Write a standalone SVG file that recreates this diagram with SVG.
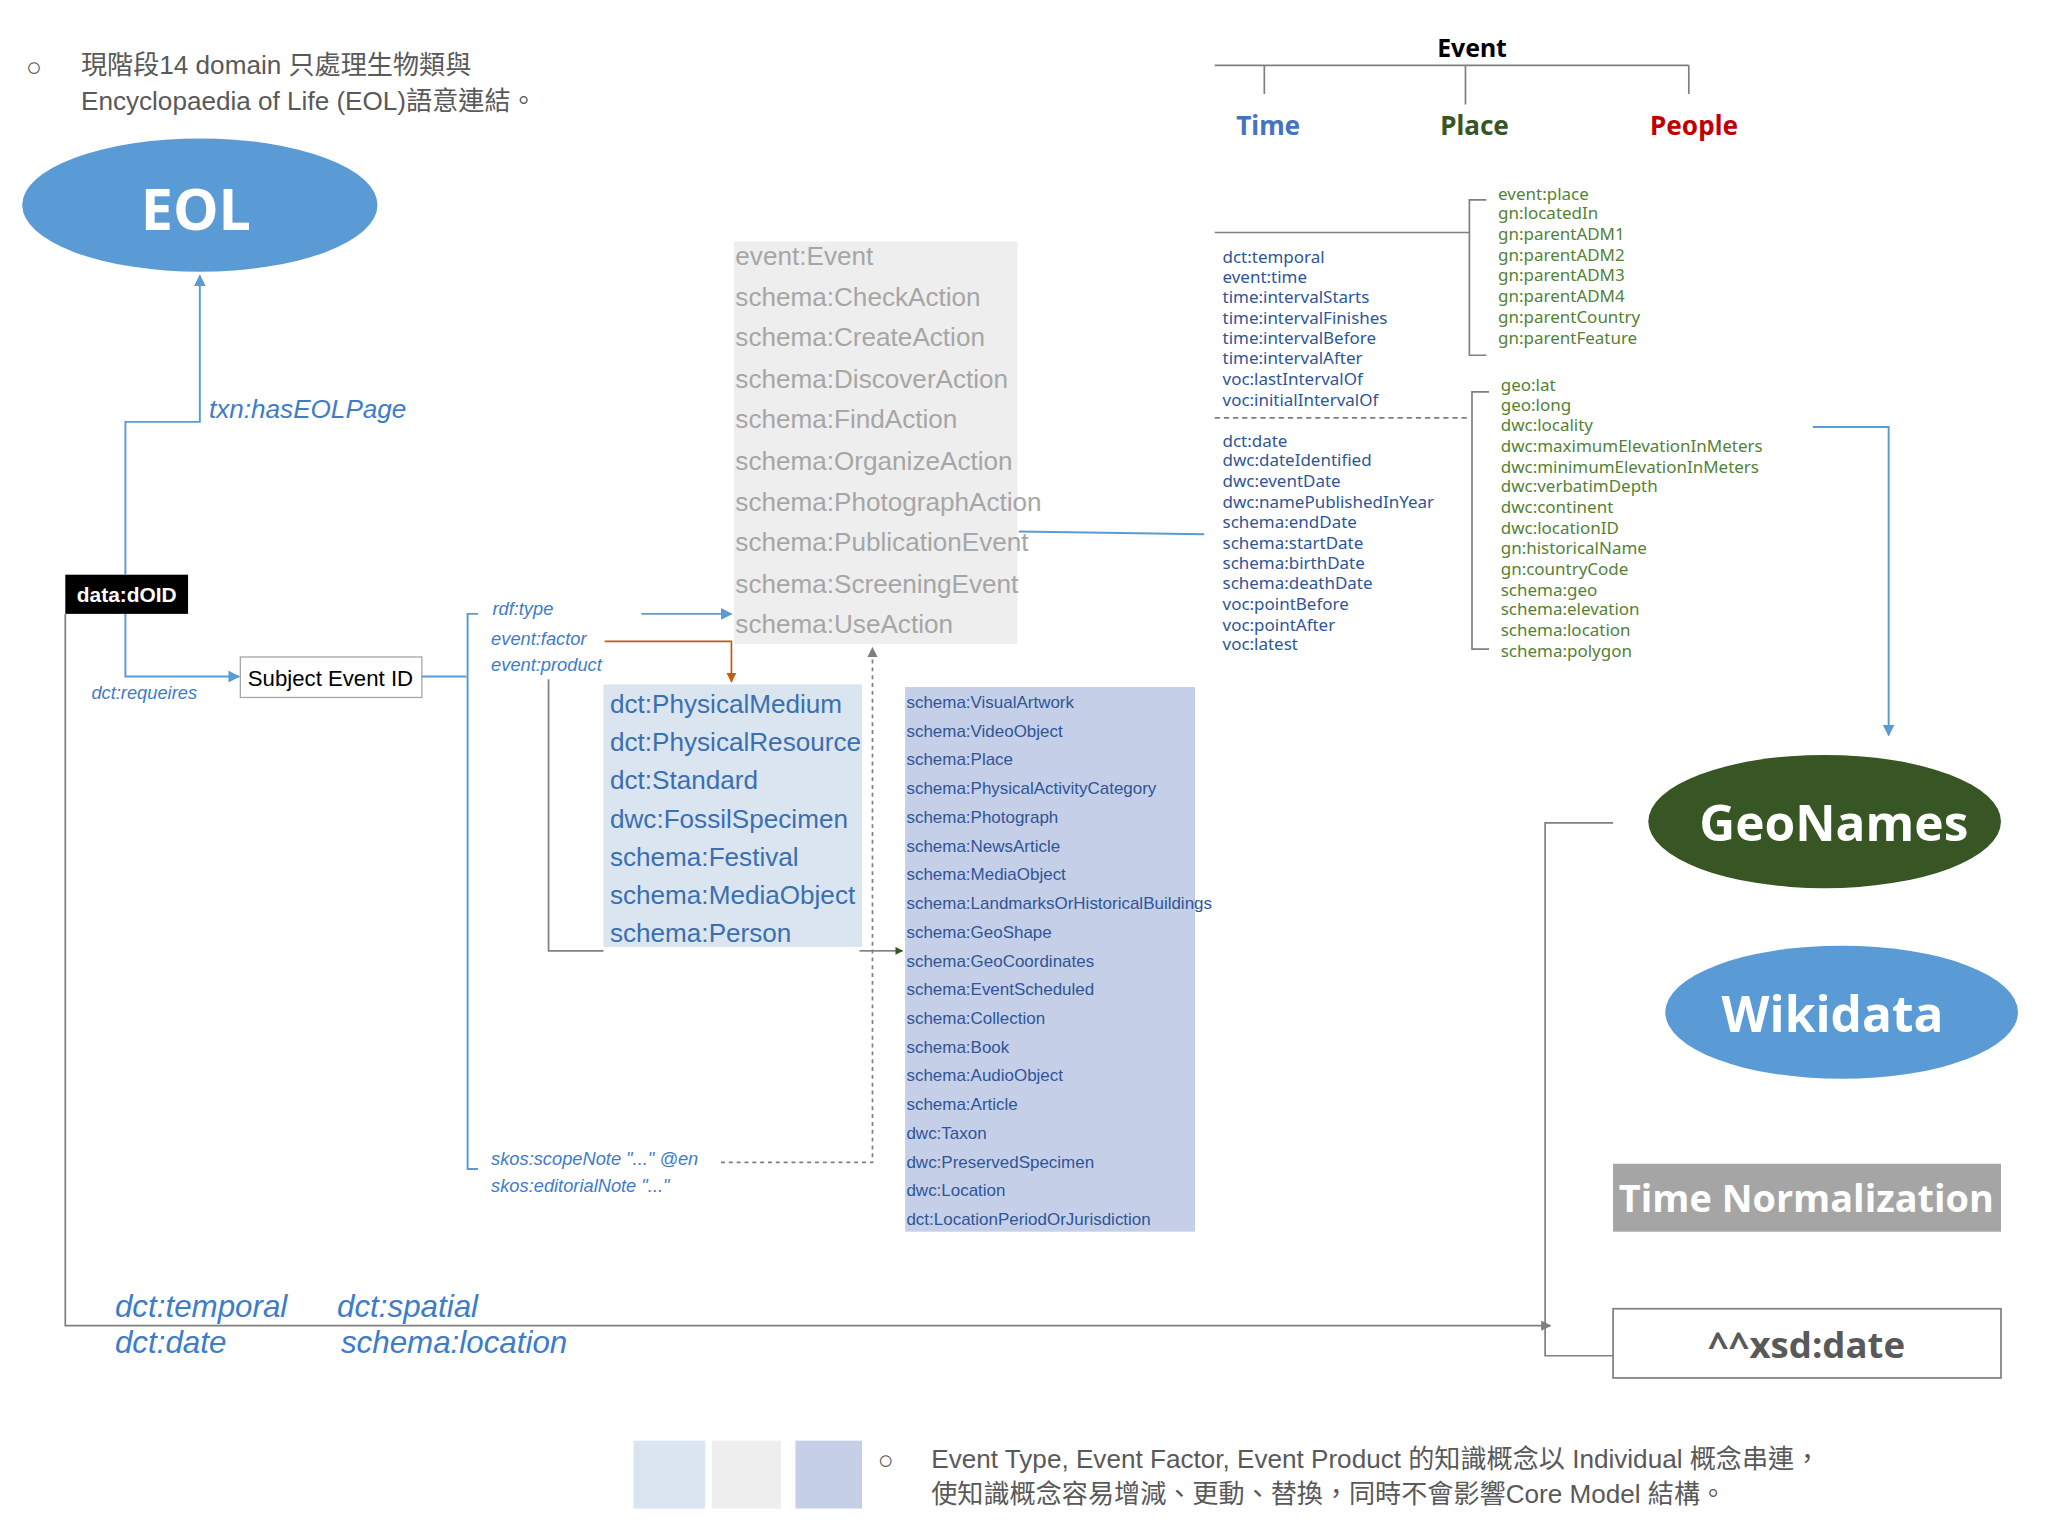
<svg xmlns="http://www.w3.org/2000/svg" width="2048" height="1536" viewBox="0 0 2048 1536">
<style>
.g{font-family:"Liberation Sans",Arial,"Noto Sans CJK TC",sans-serif;fill:#595959;font-size:20px}
.lst{font-family:"Noto Sans","DejaVu Sans",sans-serif;font-size:13px}
.bl{fill:#2f5597}.gr{fill:#548235}
.nar{font-family:"Liberation Sans Narrow","Liberation Sans",sans-serif}
.it{font-family:"Liberation Sans Narrow","Liberation Sans",sans-serif;font-style:italic;fill:#3d7cc9}
.ln{fill:none;stroke:#7f7f7f;stroke-width:1.3}
.bln{fill:none;stroke:#5b9bd5;stroke-width:1.5}
.big{font-family:"Open Sans","Liberation Sans",sans-serif;font-weight:bold;fill:#fff;text-anchor:middle}
</style>
<defs>
<marker id="ab" viewBox="0 0 10 10" refX="9" refY="5" markerWidth="6" markerHeight="6" orient="auto"><path d="M0,0L10,5L0,10z" fill="#5b9bd5"/></marker>
<marker id="ao" viewBox="0 0 10 10" refX="9" refY="5" markerWidth="6" markerHeight="6" orient="auto"><path d="M0,0L10,5L0,10z" fill="#c55a11"/></marker>
<marker id="ag" viewBox="0 0 10 10" refX="9" refY="5" markerWidth="6" markerHeight="6" orient="auto"><path d="M0,0L10,5L0,10z" fill="#7f7f7f"/></marker>
<marker id="adg" viewBox="0 0 10 10" refX="9" refY="5" markerWidth="6" markerHeight="6" orient="auto"><path d="M0,0L10,5L0,10z" fill="#375623"/></marker>
</defs>
<rect width="2048" height="1536" fill="#fff"/>
<g transform="scale(1.30612)">
<g id="intro">
<text class="g" x="20" y="58">○</text>
<text class="g" x="62" y="57">現階段14 domain 只處理生物類與</text>
<text class="g" x="62" y="84">Encyclopaedia of Life (EOL)語意連結。</text>
</g>
<g id="eol"><ellipse cx="153" cy="157" rx="136" ry="51" fill="#5b9bd5"/><text class="big" x="150" y="176" font-size="44">EOL</text></g>
<g id="event">
<text x="1127" y="44" font-family="Noto Sans,sans-serif" font-weight="bold" font-size="19" text-anchor="middle" fill="#000">Event</text>
<path class="ln" d="M930,50H1293M968,50V72M1122,50V80M1293,50V72"/>
<text x="971" y="103" font-family="Noto Sans,sans-serif" font-weight="bold" font-size="20" text-anchor="middle" fill="#4472c4">Time</text>
<text x="1129" y="103" font-family="Noto Sans,sans-serif" font-weight="bold" font-size="20" text-anchor="middle" fill="#375623">Place</text>
<text x="1297" y="103" font-family="Noto Sans,sans-serif" font-weight="bold" font-size="20" text-anchor="middle" fill="#c00000">People</text>
</g>
<g id="timelist" class="lst bl">
<text x="936" y="201">dct:temporal</text><text x="936" y="217">event:time</text><text x="936" y="232">time:intervalStarts</text><text x="936" y="248">time:intervalFinishes</text><text x="936" y="263">time:intervalBefore</text><text x="936" y="279">time:intervalAfter</text><text x="936" y="295">voc:lastIntervalOf</text><text x="936" y="311">voc:initialIntervalOf</text>
<text x="936" y="342">dct:date</text><text x="936" y="357">dwc:dateIdentified</text><text x="936" y="373">dwc:eventDate</text><text x="936" y="389">dwc:namePublishedInYear</text><text x="936" y="404">schema:endDate</text><text x="936" y="420">schema:startDate</text><text x="936" y="436">schema:birthDate</text><text x="936" y="451">schema:deathDate</text><text x="936" y="467">voc:pointBefore</text><text x="936" y="483">voc:pointAfter</text><text x="936" y="498">voc:latest</text>
</g>
<g id="placelist" class="lst gr">
<text x="1147" y="153">event:place</text><text x="1147" y="168">gn:locatedIn</text><text x="1147" y="184">gn:parentADM1</text><text x="1147" y="200">gn:parentADM2</text><text x="1147" y="215">gn:parentADM3</text><text x="1147" y="231">gn:parentADM4</text><text x="1147" y="247">gn:parentCountry</text><text x="1147" y="263">gn:parentFeature</text>
<text x="1149" y="299">geo:lat</text><text x="1149" y="315">geo:long</text><text x="1149" y="330">dwc:locality</text><text x="1149" y="346">dwc:maximumElevationInMeters</text><text x="1149" y="362">dwc:minimumElevationInMeters</text><text x="1149" y="377">dwc:verbatimDepth</text><text x="1149" y="393">dwc:continent</text><text x="1149" y="409">dwc:locationID</text><text x="1149" y="424">gn:historicalName</text><text x="1149" y="440">gn:countryCode</text><text x="1149" y="456">schema:geo</text><text x="1149" y="471">schema:elevation</text><text x="1149" y="487">schema:location</text><text x="1149" y="503">schema:polygon</text>
</g>
<g id="typebox">
<rect x="562" y="185" width="217" height="308" fill="#eeeeee"/>
<g class="nar" fill="#a6a6a6" font-size="20">
<text x="563" y="203">event:Event</text><text x="563" y="234">schema:CheckAction</text><text x="563" y="265">schema:CreateAction</text><text x="563" y="297">schema:DiscoverAction</text><text x="563" y="328">schema:FindAction</text><text x="563" y="360">schema:OrganizeAction</text><text x="563" y="391">schema:PhotographAction</text><text x="563" y="422">schema:PublicationEvent</text><text x="563" y="454">schema:ScreeningEvent</text><text x="563" y="485">schema:UseAction</text>
</g></g>
<g id="factorbox">
<rect x="462" y="524" width="198" height="201" fill="#dae5f0"/>
<g class="nar" fill="#3a6fb0" font-size="20">
<text x="467" y="546">dct:PhysicalMedium</text><text x="467" y="575">dct:PhysicalResource</text><text x="467" y="604">dct:Standard</text><text x="467" y="634">dwc:FossilSpecimen</text><text x="467" y="663">schema:Festival</text><text x="467" y="692">schema:MediaObject</text><text x="467" y="721">schema:Person</text>
</g></g>
<g id="productbox">
<rect x="693" y="526" width="222" height="417" fill="#c5cfe8"/>
<g class="nar" fill="#2f5597" font-size="13">
<text x="694" y="542">schema:VisualArtwork</text><text x="694" y="564">schema:VideoObject</text><text x="694" y="586">schema:Place</text><text x="694" y="608">schema:PhysicalActivityCategory</text><text x="694" y="630">schema:Photograph</text><text x="694" y="652">schema:NewsArticle</text><text x="694" y="674">schema:MediaObject</text><text x="694" y="696">schema:LandmarksOrHistoricalBuildings</text><text x="694" y="718">schema:GeoShape</text><text x="694" y="740">schema:GeoCoordinates</text><text x="694" y="762">schema:EventScheduled</text><text x="694" y="784">schema:Collection</text><text x="694" y="806">schema:Book</text><text x="694" y="828">schema:AudioObject</text><text x="694" y="850">schema:Article</text><text x="694" y="872">dwc:Taxon</text><text x="694" y="894">dwc:PreservedSpecimen</text><text x="694" y="916">dwc:Location</text><text x="694" y="938">dct:LocationPeriodOrJurisdiction</text>
</g></g>
<g id="doid"><rect x="50" y="440" width="94" height="30" fill="#000"/><text x="97" y="461" font-family="Liberation Sans,sans-serif" font-weight="bold" font-size="16" fill="#fff" text-anchor="middle">data:dOID</text></g>
<g id="subject"><rect x="184" y="503" width="139" height="31" fill="#fff" stroke="#a6a6a6"/><text x="253" y="525" font-family="Liberation Sans Narrow,Liberation Sans,sans-serif" font-size="17" fill="#000" text-anchor="middle">Subject Event ID</text></g>
<g id="geonames"><ellipse cx="1397" cy="629" rx="135" ry="51" fill="#375623"/><text class="big" x="1404" y="644" font-size="38">GeoNames</text></g>
<g id="wikidata"><ellipse cx="1410" cy="775" rx="135" ry="51" fill="#5b9bd5"/><text class="big" x="1403" y="790" font-size="38">Wikidata</text></g>
<g id="timenorm"><rect x="1235" y="891" width="297" height="52" fill="#a5a5a5"/><text class="big" x="1383" y="928" font-size="29">Time Normalization</text></g>
<g id="xsddate"><rect x="1235" y="1002" width="297" height="53" fill="#fff" stroke="#7f7f7f" stroke-width="1.3"/><text x="1383" y="1040" font-family="Open Sans,Liberation Sans,sans-serif" font-weight="bold" font-size="28" fill="#595959" text-anchor="middle">^^xsd:date</text></g>
<g id="connectors">
<path class="ln" d="M930,178H1125M1138,153H1125V272H1138"/>
<path class="ln" d="M930,320H1125" stroke-dasharray="4,3"/>
<path class="ln" d="M1140,300H1127V497H1140"/>
<path class="bln" d="M780,407L922,409"/>
<path class="bln" d="M1388,327H1446V563" marker-end="url(#ab)"/>
<path class="bln" d="M96,440V323H153V211" marker-end="url(#ab)"/>
<path class="bln" d="M96,470V518H183" marker-end="url(#ab)"/>
<path class="bln" d="M323,518H357M366,470H358V895H366" stroke-width="1"/>
<path class="bln" d="M491,470H560" marker-end="url(#ab)"/>
<path d="M463,491H560V522" fill="none" stroke="#c55a11" stroke-width="1.3" marker-end="url(#ao)"/>
<path class="ln" d="M420,520V728H462"/>
<path d="M658,728H691" fill="none" stroke="#595959" stroke-width="1" marker-end="url(#adg)"/>
<path class="ln" d="M552,890H668V496" stroke-dasharray="3,3" stroke="#a6a6a6" marker-end="url(#ag)"/>
<path class="ln" d="M50,470V1015H1187" marker-end="url(#ag)"/>
<path class="ln" d="M1235,630H1183V1038H1235"/>
</g>
<g id="labels">
<text class="it" x="160" y="320" font-size="20">txn:hasEOLPage</text>
<text class="it" x="70" y="535" font-size="14">dct:requeires</text>
<text class="it" x="377" y="471" font-size="14">rdf:type</text>
<text class="it" x="376" y="494" font-size="14">event:factor</text>
<text class="it" x="376" y="514" font-size="14">event:product</text>
<text class="it" x="376" y="892" font-size="14">skos:scopeNote "..." @en</text>
<text class="it" x="376" y="913" font-size="14">skos:editorialNote  "..."</text>
<text class="it" x="88" y="1008" font-size="24" fill="#5b9bd5">dct:temporal</text>
<text class="it" x="88" y="1036" font-size="24" fill="#5b9bd5">dct:date</text>
<text class="it" x="258" y="1008" font-size="24" fill="#5b9bd5">dct:spatial</text>
<text class="it" x="261" y="1036" font-size="24" fill="#5b9bd5">schema:location</text>
</g>
<g id="footer">
<rect x="485" y="1103" width="55" height="52" fill="#dae5f0"/>
<rect x="545" y="1103" width="53" height="52" fill="#eeeeee"/>
<rect x="609" y="1103" width="51" height="52" fill="#c5cfe8"/>
<text class="g" x="672" y="1125">○</text>
<text class="g" x="713" y="1124">Event Type, Event  Factor, Event Product 的知識概念以 Individual 概念串連，</text>
<text class="g" x="713" y="1151">使知識概念容易增減、更動、替換，同時不會影響Core Model  結構。</text>
</g>
</g>
</svg>
